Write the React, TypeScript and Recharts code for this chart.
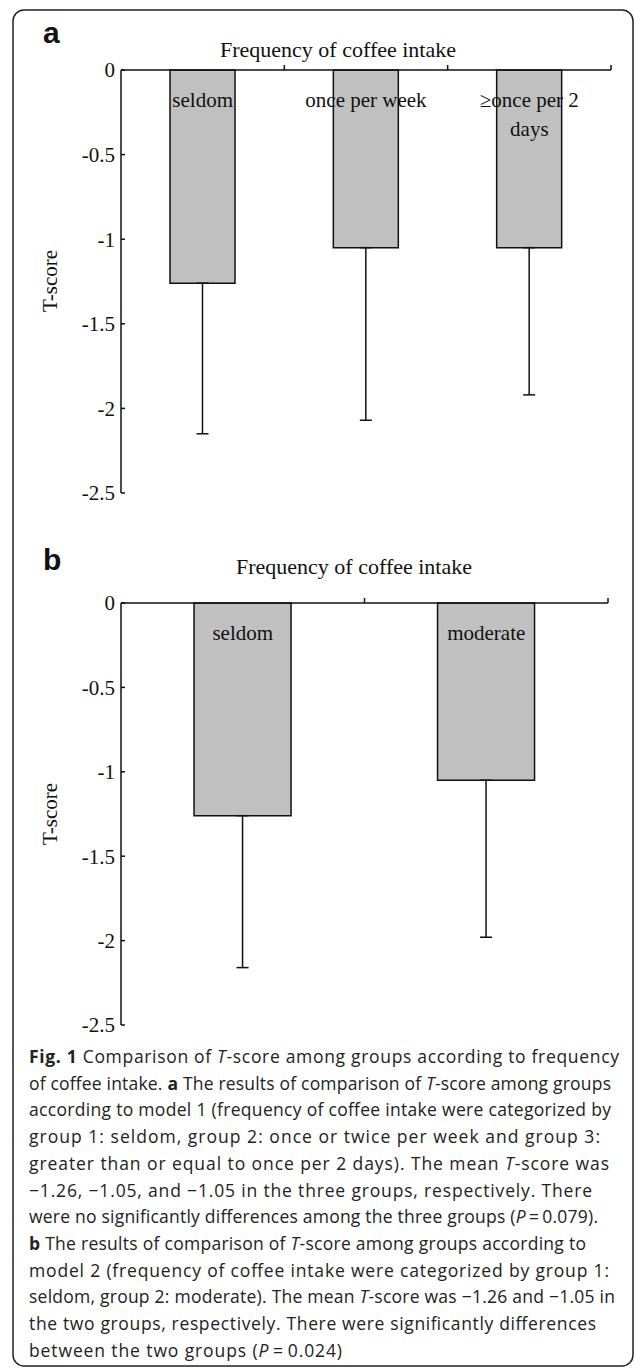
import React from "react";
import { BarChart, Bar, XAxis, YAxis, ErrorBar } from "recharts";

// y axis (T-score), shared by both panels
const yTicks = [0, -0.5, -1, -1.5, -2, -2.5];

// panel a: model 1, three groups
const groupsA = ["seldom", "once per week", "≥once per 2 days"];
const tickLinesA = [["seldom"], ["once per week"], ["≥once per 2", "days"]];
const meanA = [-1.26, -1.05, -1.05];
const sdA = [0.89, 1.02, 0.87];

// panel b: model 2, two groups
const groupsB = ["seldom", "moderate"];
const tickLinesB = [["seldom"], ["moderate"]];
const meanB = [-1.26, -1.05];
const sdB = [0.9, 0.93];

const SERIF = "'Liberation Serif', 'Times New Roman', serif";
const SANS = "'Liberation Sans', Arial, sans-serif";
const CAPTION = "'Open Sans', 'Noto Sans', sans-serif";
const INK = "#111";

const W = 634;
const H = 520;
const Y_AXIS_W = 80;

// category labels hang inside the bars, and the small upward ticks sit on band edges
function makeTopTick(lines: string[][], band: number) {
  return (props: any) => {
    const { x, y, payload } = props;
    const ls = lines[payload.index] || [String(payload.value)];
    return (
      <g>
        <line x1={x + band / 2} x2={x + band / 2} y1={y} y2={y - 5} stroke={INK} strokeWidth={1.5} />
        {ls.map((l, i) => (
          <text key={i} x={x} y={y + 37 + i * 29} textAnchor="middle" fontSize={21} fontFamily={SERIF} fill={INK}>
            {l}
          </text>
        ))}
      </g>
    );
  };
}

type Margin = { top: number; right: number; bottom: number; left: number };

function Panel(props: {
  groups: string[];
  lines: string[][];
  means: number[];
  sds: number[];
  top: number;
  margin: Margin;
}) {
  const { groups, lines, means, sds, top, margin } = props;
  const data = groups.map((g, i) => ({ group: g, mean: means[i], err: [sds[i], 0] }));
  const band = (W - margin.left - Y_AXIS_W - margin.right) / groups.length;

  return (
    <div style={{ position: "absolute", left: 0, top, width: W, height: H }}>
      <BarChart width={W} height={H} data={data} margin={margin} barCategoryGap="30%">
        <YAxis
          type="number"
          domain={[-2.5, 0]}
          ticks={yTicks}
          interval={0}
          width={Y_AXIS_W}
          tickSize={-4}
          tickMargin={10}
          axisLine={{ stroke: INK, strokeWidth: 1.5 }}
          tickLine={{ stroke: INK, strokeWidth: 1.5 }}
          tick={{ fontSize: 21, fill: INK, fontFamily: SERIF }}
        />
        <Bar dataKey="mean" fill="#c0c0c0" stroke={INK} strokeWidth={1.5} isAnimationActive={false}>
          <ErrorBar dataKey="err" direction="y" width={6} stroke={INK} strokeWidth={1.5} isAnimationActive={false} />
        </Bar>
        <XAxis
          dataKey="group"
          orientation="top"
          height={30}
          interval={0}
          tickSize={0}
          tickMargin={0}
          tickLine={false}
          axisLine={{ stroke: INK, strokeWidth: 1.5 }}
          tick={makeTopTick(lines, band)}
        />
      </BarChart>
    </div>
  );
}

const it = (s: string) => <tspan fontStyle="italic">{s}</tspan>;
const bd = (s: string) => <tspan fontWeight="bold">{s}</tspan>;
const eq = "\u2009=\u2009";

const captionLines: [React.ReactNode, number][] = [
  [<>{bd("Fig. 1")} Comparison of {it("T")}-score among groups according to frequency</>, 619],
  [<>of coffee intake. {bd("a")} The results of comparison of {it("T")}-score among groups</>, 611],
  [<>according to model 1 (frequency of coffee intake were categorized by</>, 611],
  [<>group 1: seldom, group 2: once or twice per week and group 3:</>, 600],
  [<>greater than or equal to once per 2 days). The mean {it("T")}-score was</>, 609],
  [<>−1.26, −1.05, and −1.05 in the three groups, respectively. There</>, 592],
  [<>were no significantly differences among the three groups ({it("P")}{eq}0.079).</>, 598],
  [<>{bd("b")} The results of comparison of {it("T")}-score among groups according to</>, 586],
  [<>model 2 (frequency of coffee intake were categorized by group 1:</>, 609],
  [<>seldom, group 2: moderate). The mean {it("T")}-score was −1.26 and −1.05 in</>, 615],
  [<>the two groups, respectively. There were significantly differences</>, 596],
  [<>between the two groups ({it("P")}{eq}0.024)</>, 342],
];

export default function App() {
  return (
    <div style={{ position: "absolute", left: 0, top: 0, width: 634, height: 1368, overflow: "hidden", background: "#fff" }}>
      <Panel
        groups={groupsA}
        lines={tickLinesA}
        means={meanA}
        sds={sdA}
        top={0}
        margin={{ top: 40, right: 23, bottom: 27, left: 121 - Y_AXIS_W }}
      />
      <Panel
        groups={groupsB}
        lines={tickLinesB}
        means={meanB}
        sds={sdB}
        top={540}
        margin={{ top: 33, right: 26, bottom: 35, left: 121 - Y_AXIS_W }}
      />
      <svg width={634} height={1368} style={{ position: "absolute", left: 0, top: 0, pointerEvents: "none" }}>
        <rect x={13} y={10} width={620} height={1356} rx={11} fill="none" stroke="#222" strokeWidth={1.5} />

        <text x={43} y={43} fontSize={30} fontWeight="bold" fontFamily={SANS} fill={INK}>a</text>
        <text x={338} y={57} textAnchor="middle" fontSize={22} fontFamily={SERIF} fill={INK}>
          Frequency of coffee intake
        </text>
        <text transform="translate(57,281) rotate(-90)" textAnchor="middle" fontSize={21} fontFamily={SERIF} fill={INK}>
          T-score
        </text>

        <text x={43} y={570} fontSize={30} fontWeight="bold" fontFamily={SANS} fill={INK}>b</text>
        <text x={354} y={574} textAnchor="middle" fontSize={22} fontFamily={SERIF} fill={INK}>
          Frequency of coffee intake
        </text>
        <text transform="translate(57,814) rotate(-90)" textAnchor="middle" fontSize={21} fontFamily={SERIF} fill={INK}>
          T-score
        </text>

        {captionLines.map(([content, end], i) => (
          <text
            key={i}
            x={29}
            y={1063 + i * 26.7}
            fontSize={17.5}
            fontFamily={CAPTION}
            fill="#222"
            textLength={end - 29}
            lengthAdjust="spacing"
          >
            {content}
          </text>
        ))}
      </svg>
    </div>
  );
}
